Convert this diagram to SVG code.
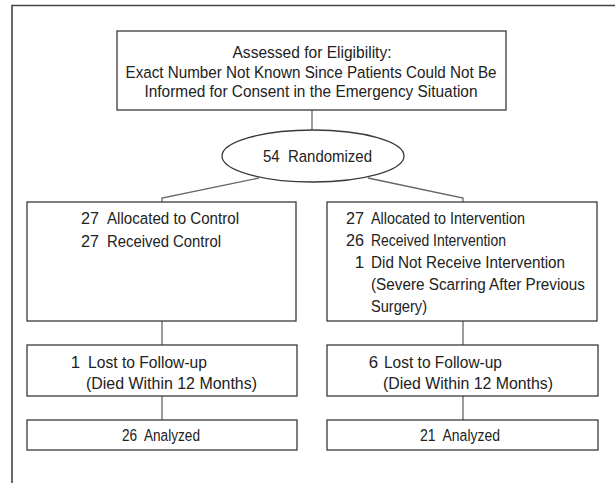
<svg xmlns="http://www.w3.org/2000/svg" width="615" height="483" viewBox="0 0 615 483">
<style>
.box{fill:#fff;stroke:#3a3a3a;stroke-width:1.3}
.con{fill:none;stroke:#666;stroke-width:1.3}
.frame{fill:none;stroke:#444;stroke-width:1.6}
text{font-family:"Liberation Sans Narrow","Liberation Sans",Arial,sans-serif;font-size:16.8px;fill:#222}
.m{text-anchor:middle}
.e{text-anchor:end}
</style>
<rect width="615" height="483" fill="#fff"/>
<polyline class="frame" points="12,483 12,5.5 615,5.5"/>
<g id="connectors">
<line class="con" x1="312" y1="110" x2="312" y2="130"/>
<polyline class="con" points="259,178 162,198 162,202"/>
<polyline class="con" points="368,178 463,198 463,202"/>
<line class="con" x1="162" y1="321" x2="162" y2="345"/>
<line class="con" x1="463" y1="321" x2="463" y2="345"/>
<line class="con" x1="162" y1="396" x2="162" y2="420"/>
<line class="con" x1="463" y1="396" x2="463" y2="420"/>
</g>
<g id="eligibility">
<rect class="box" x="117" y="31" width="389" height="79"/>
<text class="m" x="312" y="58" textLength="159" lengthAdjust="spacingAndGlyphs">Assessed for Eligibility:</text>
<text class="m" x="311" y="78" textLength="371" lengthAdjust="spacingAndGlyphs">Exact Number Not Known Since Patients Could Not Be</text>
<text class="m" x="311" y="97" textLength="333" lengthAdjust="spacingAndGlyphs">Informed for Consent in the Emergency Situation</text>
</g>
<g id="randomized">
<ellipse class="box" cx="313" cy="156" rx="91" ry="26"/>
<text x="263" y="162" textLength="109" lengthAdjust="spacingAndGlyphs">54&#160; Randomized</text>
</g>
<g id="control">
<rect class="box" x="27" y="202" width="269" height="119"/>
<text x="81" y="224" textLength="18" lengthAdjust="spacingAndGlyphs">27</text>
<text x="107" y="224" textLength="132" lengthAdjust="spacingAndGlyphs">Allocated to Control</text>
<text x="81" y="247" textLength="18" lengthAdjust="spacingAndGlyphs">27</text>
<text x="107" y="247" textLength="114" lengthAdjust="spacingAndGlyphs">Received Control</text>
</g>
<g id="intervention">
<rect class="box" x="327" y="202" width="270" height="119"/>
<text x="346" y="224" textLength="18" lengthAdjust="spacingAndGlyphs">27</text>
<text x="371" y="224" textLength="154" lengthAdjust="spacingAndGlyphs">Allocated to Intervention</text>
<text x="346" y="246" textLength="18" lengthAdjust="spacingAndGlyphs">26</text>
<text x="371" y="246" textLength="135" lengthAdjust="spacingAndGlyphs">Received Intervention</text>
<text class="e" x="364" y="268">1</text>
<text x="371" y="268" textLength="194" lengthAdjust="spacingAndGlyphs">Did Not Receive Intervention</text>
<text x="371" y="290" textLength="214" lengthAdjust="spacingAndGlyphs">(Severe Scarring After Previous</text>
<text x="371" y="312" textLength="56" lengthAdjust="spacingAndGlyphs">Surgery)</text>
</g>
<g id="lost-control">
<rect class="box" x="27" y="345" width="270" height="51"/>
<text class="e" x="80" y="368">1</text>
<text x="88" y="368" textLength="119" lengthAdjust="spacingAndGlyphs">Lost to Follow-up</text>
<text x="86" y="389" textLength="171" lengthAdjust="spacingAndGlyphs">(Died Within 12 Months)</text>
</g>
<g id="lost-intervention">
<rect class="box" x="327" y="345" width="271" height="51"/>
<text class="e" x="378" y="368">6</text>
<text x="384" y="368" textLength="118" lengthAdjust="spacingAndGlyphs">Lost to Follow-up</text>
<text x="383" y="389" textLength="170" lengthAdjust="spacingAndGlyphs">(Died Within 12 Months)</text>
</g>
<g id="analyzed-control">
<rect class="box" x="27" y="420" width="270" height="30"/>
<text class="m" x="161" y="441" textLength="78" lengthAdjust="spacingAndGlyphs">26&#160; Analyzed</text>
</g>
<g id="analyzed-intervention">
<rect class="box" x="327" y="420" width="271" height="30"/>
<text class="m" x="460" y="441" textLength="80" lengthAdjust="spacingAndGlyphs">21&#160; Analyzed</text>
</g>
</svg>
